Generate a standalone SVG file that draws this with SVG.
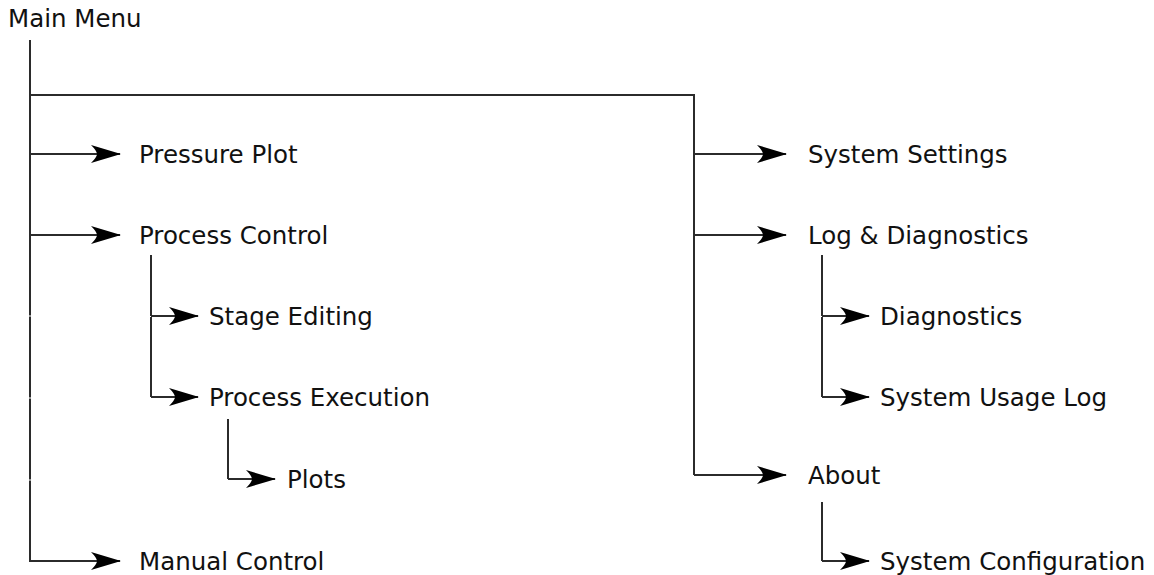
<svg xmlns="http://www.w3.org/2000/svg" width="1154" height="575" viewBox="0 0 1154 575">
<style>
.t{font-family:"DejaVu Sans","Verdana",sans-serif;font-size:24.5px;fill:#111}
.c{fill:none;stroke:#2b2b2b;stroke-width:2}
.a{marker-end:url(#arr)}
</style>
<defs>
<marker id="arr" markerUnits="userSpaceOnUse" markerWidth="34" markerHeight="24" viewBox="-31 -12 34 24" refX="0" refY="0" orient="auto">
<path d="M1,0 Q-14,-4.5 -29,-9 Q-23,-3 -23,0 Q-23,3 -29,9 Q-14,4.5 1,0 Z" fill="#000"/>
</marker>
</defs>
<rect width="1154" height="575" fill="#fff"/>
<g id="connectors">
<path class="c" d="M30,40 V315.5 M30,316.5 V397.5 M30,398.5 V479.5 M30,480.5 V561 H98"/>
<path class="c a" d="M30,561 H120"/>
<path class="c" d="M30,95 H694 V475"/>
<path class="c a" d="M30,154 H120"/>
<path class="c a" d="M30,235 H120"/>
<path class="c a" d="M694,154 H786"/>
<path class="c a" d="M694,235 H786"/>
<path class="c a" d="M694,475 H786"/>
<path class="c" d="M151,255 V316 M151,317 V397"/>
<path class="c a" d="M151,316 H198"/>
<path class="c a" d="M151,397 H198"/>
<path class="c" d="M228,419 V479"/>
<path class="c a" d="M228,479 H275"/>
<path class="c" d="M822,255 V316 M822,317 V397"/>
<path class="c a" d="M822,316 H869"/>
<path class="c a" d="M822,397 H869"/>
<path class="c" d="M822,502 V561"/>
<path class="c a" d="M822,561 H869"/>
</g>
<g id="main-menu"><text class="t" x="8" y="27">Main Menu</text></g>
<g id="pressure-plot"><text class="t" x="139" y="162.5">Pressure Plot</text></g>
<g id="process-control"><text class="t" x="139" y="243.5">Process Control</text></g>
<g id="stage-editing"><text class="t" x="209" y="324.5">Stage Editing</text></g>
<g id="process-execution"><text class="t" x="209" y="405.5">Process Execution</text></g>
<g id="plots"><text class="t" x="287" y="487.5">Plots</text></g>
<g id="manual-control"><text class="t" x="139" y="569.5">Manual Control</text></g>
<g id="system-settings"><text class="t" x="808" y="162.5">System Settings</text></g>
<g id="log-diagnostics"><text class="t" x="808" y="243.5">Log &amp; Diagnostics</text></g>
<g id="diagnostics"><text class="t" x="880" y="324.5">Diagnostics</text></g>
<g id="system-usage-log"><text class="t" x="880" y="405.5">System Usage Log</text></g>
<g id="about"><text class="t" x="808" y="483.5">About</text></g>
<g id="system-configuration"><text class="t" x="880" y="569.5">System Configuration</text></g>
</svg>
